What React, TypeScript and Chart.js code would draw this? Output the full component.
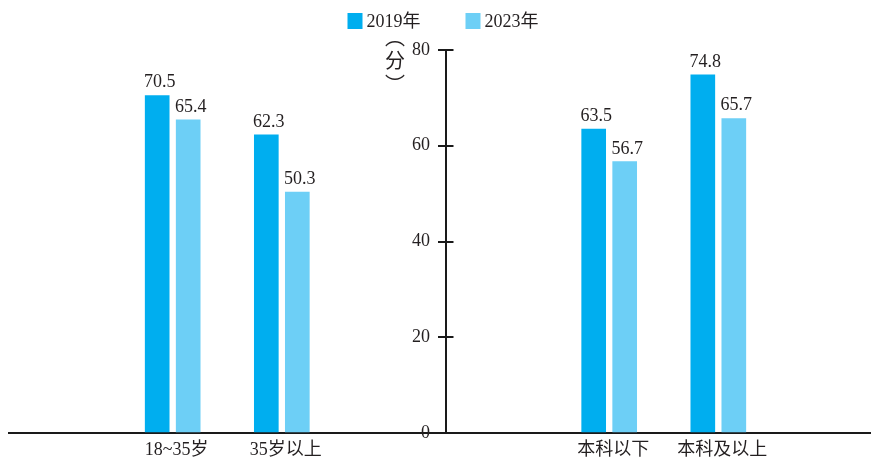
import React, { useEffect, useRef } from "react";
import { Chart, registerables } from "chart.js";

Chart.register(...registerables);

// ---- data ----
const ageCategories = ["18~35岁", "35岁以上"];
const eduCategories = ["本科以下", "本科及以上"];
const seriesNames = ["2019年", "2023年"];
const age2019 = [70.5, 62.3];
const age2023 = [65.4, 50.3];
const edu2019 = [63.5, 74.8];
const edu2023 = [56.7, 65.7];
const yTickValues = [0, 20, 40, 60, 80];
const unitText = "分";

// ---- style ----
const seriesColors = ["#00aeef", "#6dcff6"];
const inkColor = "#231f20";
const axisColor = "#1a1a1a";
const latinFont = "'Liberation Serif', 'Noto Sans CJK SC', serif";
const cjkFont = "'Noto Sans CJK SC', sans-serif";

// Category slots: an empty slot at each edge and two empty slots between the groups,
// so the value axis can sit exactly between the two groups.
const slotLabels = ["", ...ageCategories, "", "", ...eduCategories, ""];
const toSlots = (left: (number | null)[], right: (number | null)[]) => [
  null,
  ...left,
  null,
  null,
  ...right,
  null,
];
const axisSlot = ageCategories.length + 1.5;
// tick labels sit a little left of the axis line (fraction of one slot)
const labelSlot = axisSlot - 0.142;

// Draw a glyph with its ink box centred on (cx, cy).
function drawCentered(ctx: CanvasRenderingContext2D, text: string, cx: number, cy: number) {
  const m = ctx.measureText(text);
  const x = cx - (m.actualBoundingBoxRight - m.actualBoundingBoxLeft) / 2;
  const y = cy - (m.actualBoundingBoxDescent - m.actualBoundingBoxAscent) / 2;
  ctx.fillText(text, x, y);
}

const decorations = {
  id: "decorations",
  afterDatasetsDraw(chart: any) {
    const ctx: CanvasRenderingContext2D = chart.ctx;
    ctx.save();
    ctx.font = `18px ${latinFont}`;
    ctx.fillStyle = inkColor;
    ctx.textAlign = "center";
    ctx.textBaseline = "alphabetic";
    chart.data.datasets.forEach((ds: any, di: number) => {
      const meta = chart.getDatasetMeta(di);
      meta.data.forEach((el: any, i: number) => {
        const v = ds.data[i];
        if (v == null) return;
        ctx.fillText(Number(v).toFixed(1), el.x + 2.5, el.y - 8);
      });
    });
    ctx.restore();
  },
  afterDraw(chart: any) {
    const ctx: CanvasRenderingContext2D = chart.ctx;
    const { x, y } = chart.scales;
    const area = chart.chartArea;
    const ax = x.getPixelForValue(axisSlot);

    // right-hand half of each value tick (the scale draws the left half)
    ctx.save();
    ctx.strokeStyle = axisColor;
    ctx.lineWidth = 2;
    y.ticks.forEach((t: any) => {
      const py = Math.round(y.getPixelForValue(t.value));
      ctx.beginPath();
      ctx.moveTo(ax, py);
      ctx.lineTo(ax + 8, py);
      ctx.stroke();
    });
    ctx.restore();

    // vertical unit label
    ctx.save();
    ctx.fillStyle = inkColor;
    ctx.textAlign = "left";
    ctx.textBaseline = "alphabetic";
    ctx.font = `20px ${cjkFont}`;
    const ux = ax - 50.5;
    drawCentered(ctx, "\uFE35", ux, area.top - 6.5);
    drawCentered(ctx, unitText, ux, area.top + 9.5);
    drawCentered(ctx, "\uFE36", ux, area.top + 26.5);
    ctx.restore();

    // legend, centred over the value axis
    ctx.save();
    ctx.font = `18px ${latinFont}`;
    ctx.textAlign = "left";
    ctx.textBaseline = "alphabetic";
    const boxW = 15;
    const boxH = 16;
    const textGap = 19;
    const itemGap = 45;
    const datasets = chart.data.datasets;
    const itemWidths = datasets.map((ds: any) => textGap + ctx.measureText(ds.label).width);
    const total =
      itemWidths.reduce((a: number, b: number) => a + b, 0) + itemGap * (datasets.length - 1);
    let cx = ax - 2.5 - total / 2;
    datasets.forEach((ds: any, i: number) => {
      ctx.fillStyle = ds.backgroundColor;
      ctx.fillRect(cx, 13, boxW, boxH);
      ctx.fillStyle = inkColor;
      ctx.fillText(ds.label, cx + textGap, 27);
      cx += itemWidths[i] + itemGap;
    });
    ctx.restore();
  },
};

export default function App() {
  const canvasRef = useRef<HTMLCanvasElement | null>(null);

  useEffect(() => {
    const canvas = canvasRef.current;
    if (!canvas) return;
    const tickFont = { family: latinFont, size: 18 };
    const chart = new Chart(canvas, {
      type: "bar",
      data: {
        labels: slotLabels,
        datasets: [
          {
            label: seriesNames[0],
            data: toSlots(age2019, edu2019),
            backgroundColor: seriesColors[0],
            borderWidth: 0,
          },
          {
            label: seriesNames[1],
            data: toSlots(age2023, edu2023),
            backgroundColor: seriesColors[1],
            borderWidth: 0,
          },
        ],
      },
      options: {
        responsive: false,
        animation: false,
        barThickness: 31,
        maxBarThickness: 24,
        layout: { padding: { top: 50, left: 9, right: 0, bottom: 0 } },
        plugins: {
          legend: { display: false },
          tooltip: { enabled: false },
        },
        scales: {
          x: {
            type: "category",
            grid: { display: true, drawOnChartArea: false, drawTicks: false },
            border: { display: true, color: axisColor, width: 2 },
            ticks: {
              font: tickFont,
              color: inkColor,
              padding: 6,
              labelOffset: 4,
              autoSkip: false,
              maxRotation: 0,
            },
            afterFit: (s: any) => {
              s.height = 25;
            },
          },
          // value axis: line and tick marks
          y: {
            type: "linear",
            min: yTickValues[0],
            max: yTickValues[yTickValues.length - 1],
            position: { x: axisSlot },
            afterBuildTicks: (s: any) => {
              s.ticks = yTickValues.map((v) => ({ value: v }));
            },
            grid: {
              display: true,
              drawOnChartArea: false,
              drawTicks: true,
              tickLength: 7,
              color: axisColor,
              lineWidth: 2,
            },
            border: { display: true, color: axisColor, width: 2 },
            ticks: { display: false },
          },
          // value axis: tick labels
          yLabels: {
            type: "linear",
            axis: "y",
            min: yTickValues[0],
            max: yTickValues[yTickValues.length - 1],
            position: { x: labelSlot },
            afterBuildTicks: (s: any) => {
              s.ticks = yTickValues.map((v) => ({ value: v }));
            },
            grid: { display: false },
            border: { display: false },
            ticks: { font: tickFont, color: inkColor },
          },
        },
      } as any,
      plugins: [decorations],
    });
    return () => chart.destroy();
  }, []);

  return (
    <div
      style={{
        position: "fixed",
        left: 0,
        top: 0,
        width: 871,
        height: 458,
        overflow: "hidden",
        background: "#fff",
      }}
    >
      <canvas ref={canvasRef} width={882} height={458} style={{ display: "block" }} />
    </div>
  );
}
